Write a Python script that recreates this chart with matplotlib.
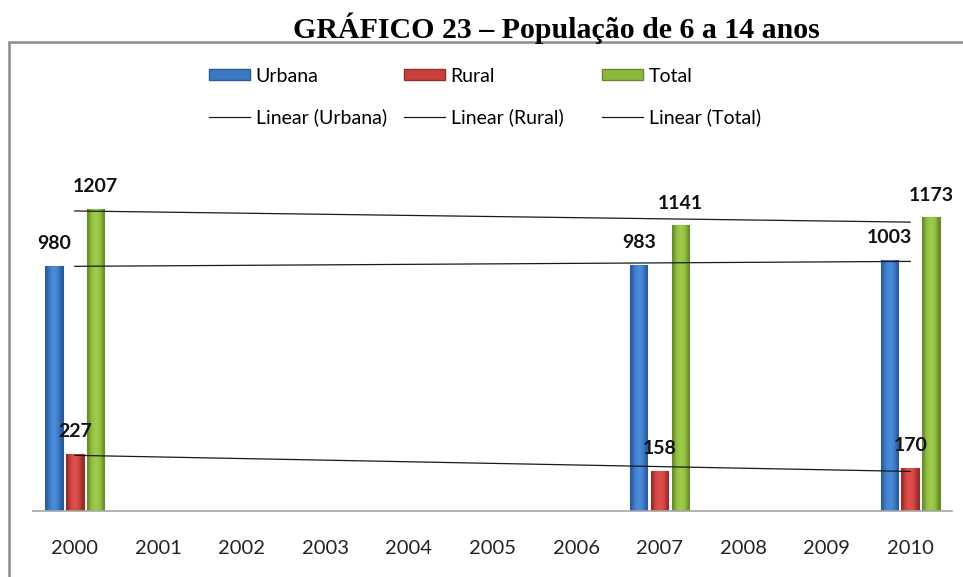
import numpy as np
import matplotlib
matplotlib.use("Agg")
import matplotlib.pyplot as plt
from matplotlib.patches import Patch, Rectangle
from matplotlib.lines import Line2D
from matplotlib.colors import LinearSegmentedColormap

years = ["2000", "2001", "2002", "2003", "2004", "2005", "2006", "2007", "2008", "2009", "2010"]
data_years = ["2000", "2007", "2010"]
urbana = [980, 983, 1003]
rural = [227, 158, 170]
total = [1207, 1141, 1173]
series_names = ["Urbana", "Rural", "Total"]

colors = ["#3C78C4", "#C9403E", "#8DB83E"]
lights = ["#4A8BDA", "#DE4F4C", "#9DCB4A"]
edges = ["#2A5A96", "#922C2A", "#68892A"]

plt.rcParams['font.family'] = ['Lato', 'DejaVu Sans']

fig = plt.figure(figsize=(9.63, 5.77), dpi=100)
ax = fig.add_axes([33/963, 1 - 510.7/577, 919/963, 350/577])

idx = np.array([years.index(y) for y in data_years])
offsets = [-0.25, 0.0, 0.25]
width = 0.21
series = [urbana, rural, total]

grad = np.array([[0.0, 0.6, 1.0, 1.0, 0.6, 0.0]])
for s, off, c, lc, e in zip(series, offsets, colors, lights, edges):
    bars = ax.bar(idx + off, s, width=width, color=c, edgecolor=e, linewidth=0.8, zorder=2)
    cmap = LinearSegmentedColormap.from_list("g", [e, c, lc])
    for b in bars:
        x0 = b.get_x()
        im = ax.imshow(grad, extent=(x0, x0 + b.get_width(), 0, b.get_height()), cmap=cmap,
                       aspect="auto", interpolation="bicubic", zorder=2.1, vmin=0, vmax=1)
        im.set_clip_path(b)
    for xi, v in zip(idx + off, s):
        ax.annotate(str(v), (xi, v), xytext=(0, 10), textcoords="offset points",
                    ha="center", va="bottom", fontsize=14, fontweight="bold", color="#111111", zorder=4)

# linear trend lines over category index
xs = np.array([0, len(years) - 1])
for s in series:
    p = np.polyfit(idx, s, 1)
    ax.plot(xs, np.polyval(p, xs), color="#1a1a1a", linewidth=0.9, zorder=3)

ax.set_xlim(-0.5, len(years) - 0.5)
ax.set_ylim(0, 1400)
ax.set_xticks(range(len(years)))
ax.set_xticklabels(years, fontsize=14.5, color="#222222")
ax.tick_params(axis='x', length=0, pad=21)
ax.set_yticks([])
for sp in ["left", "right", "top"]:
    ax.spines[sp].set_visible(False)
ax.spines["bottom"].set_color("#a6a6a6")
ax.spines["bottom"].set_linewidth(1.2)
ax.patch.set_alpha(0)

# border of chart area
fig.patches.append(Rectangle((9/963, -0.2), 1.2, 1.2 - 42/577, transform=fig.transFigure,
                             fill=False, edgecolor="#8c8c8c", linewidth=1.8, zorder=0))

# title
fig.text(556/963, 1 - 38/577, "GRÁFICO 23 – População de 6 a 14 anos", ha="center", va="baseline",
         fontsize=21.5, fontweight="bold", family=["Liberation Serif", "DejaVu Serif"])

# legend, three columns
legend_x = [203, 398, 596]
for name, c, e, lx in zip(series_names, colors, edges, legend_x):
    handles = [Patch(facecolor=c, edgecolor=e), Line2D([0], [0], color="#1a1a1a", linewidth=0.9)]
    labels = [name, "Linear (%s)" % name]
    fig.legend(handles, labels, loc="upper left", bbox_to_anchor=(lx/963 - 0.008, 1 - 54/577),
               frameon=False, fontsize=14, handlelength=2.1, handleheight=0.5,
               handletextpad=0.3, labelspacing=1.2, borderpad=0.2)

fig.savefig("out.png", dpi=100)
